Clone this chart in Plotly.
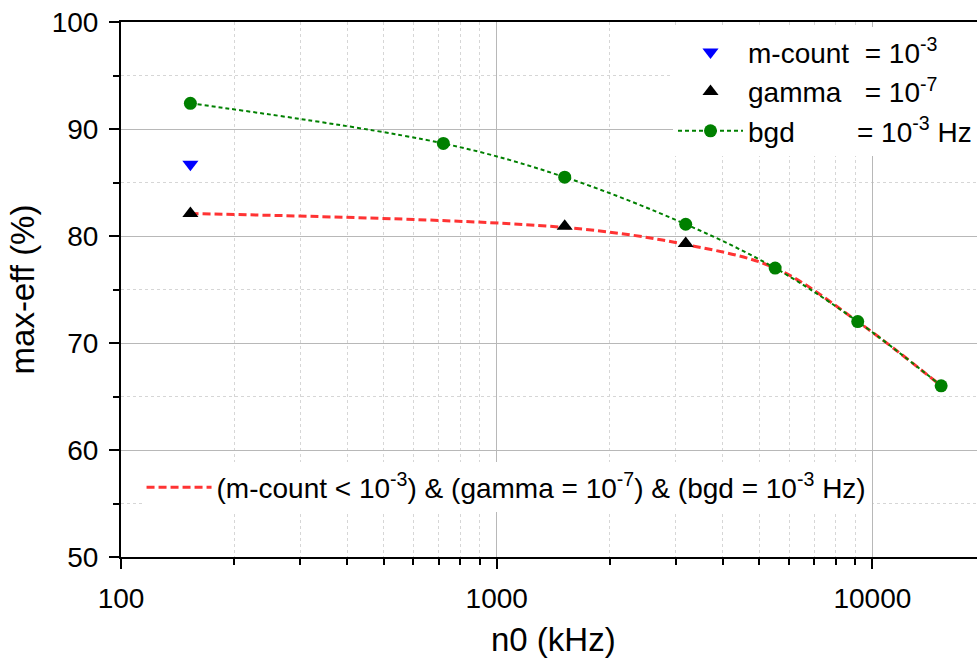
import plotly.graph_objects as go

# ---- data ----
mcount_x = [153]
mcount_y = [86.7]

gamma_x = [153, 1517, 3185]
gamma_y = [82.1, 80.9, 79.3]

bgd_x = [153, 721, 1517, 3185, 5510, 9140, 15240]
bgd_y = [92.4, 88.65, 85.5, 81.1, 77.0, 72.0, 66.0]

comb_x = [153, 1517, 3185, 5510, 9140, 15240]
comb_y = [82.1, 80.8, 79.2, 77.0, 72.0, 66.0]

x_ticks = [100, 1000, 10000]
x_ticktext = ["100", "1000", "10000"]
x_minor = [200, 300, 400, 500, 600, 700, 800, 900,
           2000, 3000, 4000, 5000, 6000, 7000, 8000, 9000]

FONT = "Liberation Sans, Arial, sans-serif"
NB = "\u00a0"

fig = go.Figure()

fig.add_trace(go.Scatter(
    x=comb_x, y=comb_y, mode="lines", line_shape="spline",
    line=dict(color="#ff3333", width=3, dash="8px,4px"),
    name="(m-count < 10<sup>-3</sup>) & (gamma = 10<sup>-7</sup>) & (bgd = 10<sup>-3</sup> Hz)",
    legend="legend2"))

fig.add_trace(go.Scatter(
    x=mcount_x, y=mcount_y, mode="markers",
    marker=dict(symbol="triangle-down", color="#0000ff", size=14),
    name="m-count" + NB * 2 + "= 10<sup>-3</sup>", legend="legend"))

fig.add_trace(go.Scatter(
    x=gamma_x, y=gamma_y, mode="markers",
    marker=dict(symbol="triangle-up", color="black", size=14),
    name="gamma" + NB * 3 + "= 10<sup>-7</sup>", legend="legend"))

fig.add_trace(go.Scatter(
    x=bgd_x, y=bgd_y, mode="lines+markers", line_shape="spline",
    line=dict(color="#008000", width=2, dash="4px,3px"),
    marker=dict(symbol="circle", color="#008000", size=13),
    name="bgd" + NB * 8 + "= 10<sup>-3</sup> Hz", legend="legend"))

fig.update_layout(
    width=977, height=660,
    margin=dict(l=121, r=0, t=22, b=103),
    paper_bgcolor="white", plot_bgcolor="white",
    font=dict(family=FONT, color="black"),
    legend=dict(x=1.0, xanchor="right", y=0.99, yanchor="top",
                bgcolor="white", font=dict(size=28, family=FONT),
                traceorder="normal", itemwidth=65, tracegroupgap=0),
    legend2=dict(x=0.024, xanchor="left", y=0.13, yanchor="middle",
                 bgcolor="white", font=dict(size=28, family=FONT),
                 itemwidth=65),
    xaxis=dict(type="log", range=[2, 2 + 856 / 375.7],
               showline=True, linecolor="black", linewidth=2, mirror=True,
               ticks="outside", ticklen=10, tickwidth=2, tickcolor="black",
               tickmode="array", tickvals=x_ticks, ticktext=x_ticktext,
               tickfont=dict(size=28, family=FONT), ticklabelstandoff=5,
               showgrid=True, gridcolor="#b8b8b8", gridwidth=1,
               zeroline=False,
               minor=dict(tickmode="array", tickvals=x_minor, ticks="outside",
                          ticklen=6, tickwidth=1.5, tickcolor="black",
                          showgrid=True, gridcolor="#d6d6d6", griddash="dot",
                          gridwidth=1)),
    yaxis=dict(range=[50, 100], dtick=10, tick0=50,
               showline=True, linecolor="black", linewidth=2, mirror=False,
               ticks="outside", ticklen=10, tickwidth=2, tickcolor="black",
               tickfont=dict(size=28, family=FONT), ticklabelstandoff=5,
               showgrid=True, gridcolor="#b8b8b8", gridwidth=1,
               zeroline=False,
               title=dict(text="max-eff (%)", font=dict(size=33, family=FONT),
                          standoff=7),
               minor=dict(dtick=5, ticks="outside", ticklen=6, tickwidth=1.5,
                          tickcolor="black", showgrid=True, gridcolor="#d6d6d6",
                          griddash="dot", gridwidth=1)),
    annotations=[dict(text="n0 (kHz)", x=0.505, xref="paper", y=-0.155,
                      yref="paper", xanchor="center", yanchor="middle",
                      showarrow=False, font=dict(size=33, family=FONT))],
)

fig.write_html("out.html")
